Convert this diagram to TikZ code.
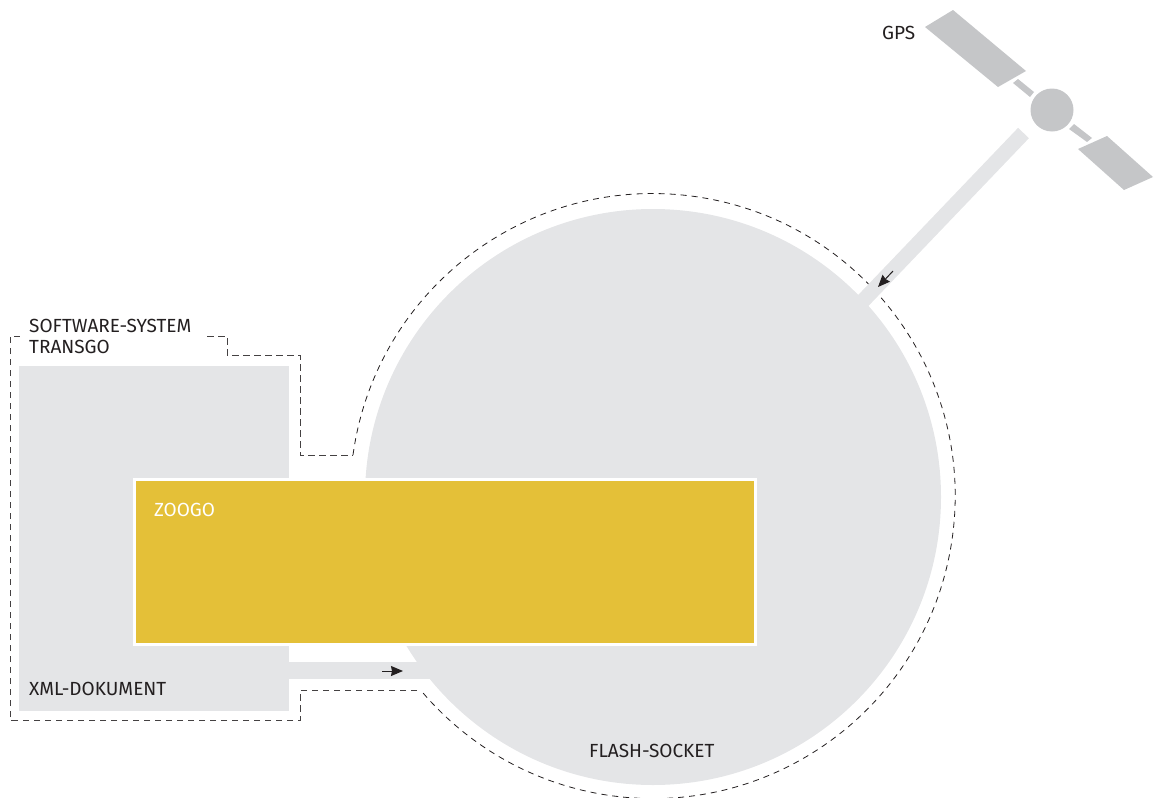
\documentclass[tikz,border=0pt]{standalone}
\usepackage{fontspec}
\setmainfont{Fira Sans}
\usepackage{xcolor}
\usetikzlibrary{arrows.meta, positioning}
\definecolor{cArea}{RGB}{228,229,231}
\definecolor{cSat}{RGB}{197,198,200}
\definecolor{cGold}{RGB}{228,192,56}
\definecolor{cInk}{RGB}{35,31,32}
\tikzset{
	area/.style    ={rectangle, fill=cArea, draw=none, inner sep=0pt},
	socket/.style  ={circle, fill=cArea, draw=none, inner sep=0pt, minimum size=576pt},
	zoogo/.style   ={rectangle, fill=cGold, draw=white, line width=3pt, inner sep=0pt, outer sep=0pt, minimum width=621pt, minimum height=165pt},
	satbody/.style ={circle, fill=cSat, draw=none, inner sep=0pt, minimum size=43pt},
	panel/.style   ={fill=cSat, draw=none},
	txt/.style     ={font=\fontsize{19}{21}\selectfont, text=cInk, inner sep=0pt, anchor=west, align=left},
	boundary/.style={cInk!85, line width=1pt, dash pattern=on 6.5pt off 4.5pt},
	boundarc/.style={cInk, line width=0.8pt, dash pattern=on 6pt off 5pt},
	signal/.style  ={-{Stealth[length=12pt, width=10pt, inset=1pt]}, line width=1pt, cInk},
	beam/.style    ={cArea, line width=15pt},
}
\begin{document}
\begin{tikzpicture}[x=1pt, y=-1pt]
	\useasboundingbox (0,0) rectangle (1157,798);
	% system boundary
	\draw[boundary] (207,336) -- (227,336) -- (227,355) -- (300,355) -- (300,455) -- (353,455);
	\draw[boundarc] (353,455) arc[start angle=172.2, end angle=-140, radius=302.5pt];
	\draw[boundary] (417,690) -- (300,690) -- (300,720) -- (10,720) -- (10,336) -- (20,336);
	% areas
	\node[socket] (socket) at (653,497) {};
	\node[area, minimum width=270pt, minimum height=345pt] (transgo) at (154,538.5) {};
	\node[area, minimum width=160pt, minimum height=17pt] (channel) at (360,670.5) {};
	\coordinate (gpsend) at (1023.5,133);
	\coordinate (socketend) at (847.5,317);
	\draw[beam] (gpsend) -- (socketend);
	\node[zoogo] (zoogo) at (444.5,562) {};
	% satellite
	\fill[panel] (925,27) -- (953,10) -- (1026,71) -- (998,87) -- cycle;
	\fill[panel] (1107,136) -- (1153,177) -- (1124,190) -- (1078,149) -- cycle;
	\fill[panel] (1018,79) -- (1013,83) -- (1030,97) -- (1034,92) -- cycle;
	\fill[panel] (1074,124) -- (1069,129) -- (1087,142) -- (1092,138) -- cycle;
	\node[satbody] (sat) at (1052,110) {};
	% arrows
	\coordinate (a1) at (382,671);
	\coordinate (a2) at (403,671);
	\coordinate (b1) at (893,271);
	\coordinate (b2) at (878,287);
	\draw[signal] (a1) -- (a2);
	\draw[signal] (b1) -- (b2);
	% labels
	\node[txt] (swlabel) at (29,336.5) {SOFTWARE-SYSTEM\\TRANSGO};
	\node[txt] (xmllabel) at (29,689) {XML-DOKUMENT};
	\node[txt, text=white] (zoogolabel) at (154,510) {ZOOGO};
	\node[txt] (flashlabel) at (589,751) {FLASH-SOCKET};
	\node[txt] (gpslabel) at (882,33) {GPS};
\end{tikzpicture}
\end{document}
